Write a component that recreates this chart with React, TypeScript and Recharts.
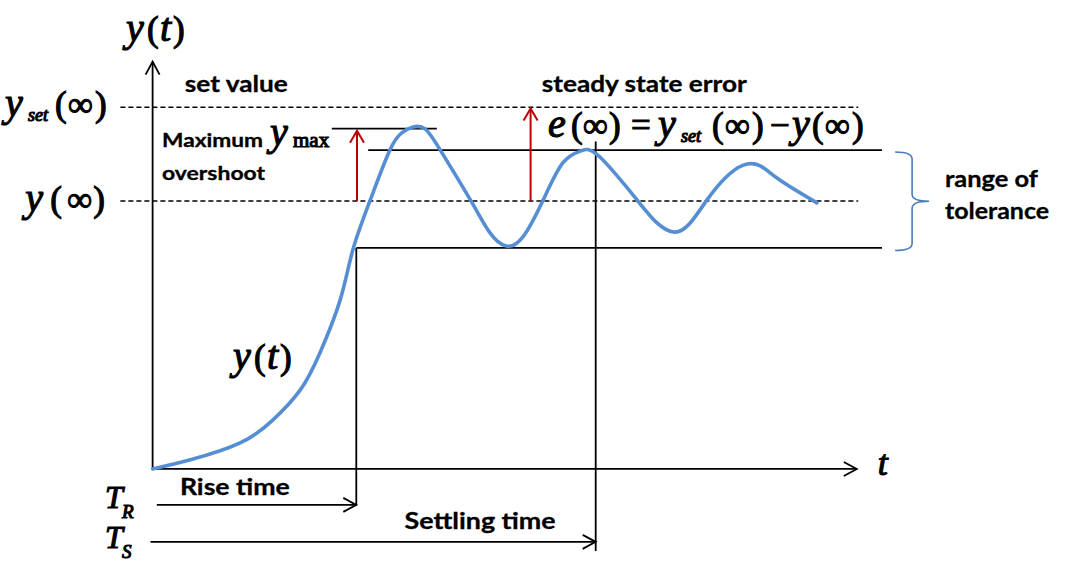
import React from 'react';
import { ComposedChart, Line, XAxis, YAxis, ReferenceLine, ReferenceDot } from 'recharts';

const WIDTH = 1071;
const HEIGHT = 570;

// t in seconds, y normalised so that y(∞) = 1
const T_DOMAIN: [number, number] = [-2.18, 13.12];
const Y_DOMAIN: [number, number] = [-0.377, 1.75];

const Y_INF = 1;
const Y_SET = 1.35;
const Y_MAX = 1.27;
const TOL_HIGH = 1.19;
const TOL_LOW = 0.825;
const T_RISE = 2.91;
const T_SETTLE = 6.33;

// step response y(t)
const response = [
  { t: 0, y: 0 },
  { t: 0.54, y: 0.034 },
  { t: 1.25, y: 0.097 },
  { t: 1.72, y: 0.183 },
  { t: 2.11, y: 0.295 },
  { t: 2.39, y: 0.433 },
  { t: 2.68, y: 0.631 },
  { t: 2.86, y: 0.817 },
  { t: 3.11, y: 1.004 },
  { t: 3.39, y: 1.19 },
  { t: 3.56, y: 1.254 },
  { t: 3.72, y: 1.276 },
  { t: 3.89, y: 1.27 },
  { t: 4.11, y: 1.19 },
  { t: 4.54, y: 1.004 },
  { t: 4.82, y: 0.881 },
  { t: 5.05, y: 0.832 },
  { t: 5.29, y: 0.866 },
  { t: 5.58, y: 1.004 },
  { t: 5.86, y: 1.142 },
  { t: 6.12, y: 1.187 },
  { t: 6.39, y: 1.164 },
  { t: 6.92, y: 1.004 },
  { t: 7.19, y: 0.922 },
  { t: 7.44, y: 0.884 },
  { t: 7.68, y: 0.918 },
  { t: 7.92, y: 1.004 },
  { t: 8.18, y: 1.086 },
  { t: 8.44, y: 1.134 },
  { t: 8.68, y: 1.131 },
  { t: 8.96, y: 1.078 },
  { t: 9.49, y: 0.993 },
];

// segments as [t1, y1, t2, y2]
const dashedLines = [
  [-0.46, Y_SET, 10.08, Y_SET],
  [-0.46, Y_INF, 10.08, Y_INF],
];
const solidLines = [
  [2.56, Y_MAX, 4.06, Y_MAX],
  [3.08, TOL_HIGH, 10.42, TOL_HIGH],
  [T_RISE, TOL_LOW, 10.42, TOL_LOW],
  [T_RISE, TOL_LOW, T_RISE, -0.134],
  [T_SETTLE, 1.222, T_SETTLE, -0.306],
];
const blackArrows = [
  [0, 0, 0, 1.52],
  [0, 0, 10.06, 0],
  [0.06, -0.134, T_RISE, -0.134],
  [-0.03, -0.272, T_SETTLE, -0.272],
];
const redArrows = [
  [2.92, Y_INF, 2.92, 1.262],
  [5.4, Y_INF, 5.4, 1.345],
];
const brace = [10.85, 1.183, 10.85, 0.815];

const captions = [
  { t: 0.46, y: 1.407, text: 'set value' },
  { t: 5.56, y: 1.407, text: 'steady state error' },
  { t: 11.32, y: 1.052, text: 'range of' },
  { t: 11.32, y: 0.933, text: 'tolerance' },
  { t: 0.39, y: -0.097, text: 'Rise time' },
  { t: 3.6, y: -0.224, text: 'Settling time' },
  { t: 0.135, y: 1.201, text: 'Maximum' },
  { t: 0.135, y: 1.078, text: 'overshoot' },
];

const mathLabels = [
  { id: 'yTitle', t: -0.379, y: 1.597 },
  { id: 'yCurve', t: 1.15, y: 0.373 },
  { id: 'ySet', t: -2.107, y: 1.317 },
  { id: 'yInf', t: -1.821, y: 0.963 },
  { id: 'yMax', t: 1.677, y: 1.209 },
  { id: 'error', t: 5.649, y: 1.239 },
  { id: 'tAxis', t: 10.36, y: -0.022 },
  { id: 'TR', t: -0.68, y: -0.146 },
  { id: 'TS', t: -0.68, y: -0.295 },
];

const SANS = "Lato, 'Open Sans', sans-serif";
const SERIF = "'Liberation Serif', 'DejaVu Serif', serif";
const CURVE_BLUE = '#568ED4';
const RED = '#C00000';

const CAPTION_STYLE: Record<string, { size: number; width: number }> = {
  'set value': { size: 22, width: 103 },
  'steady state error': { size: 22, width: 205 },
  'range of': { size: 22, width: 93 },
  'tolerance': { size: 22, width: 104 },
  'Rise time': { size: 22, width: 110 },
  'Settling time': { size: 22, width: 151 },
  'Maximum': { size: 18, width: 101 },
  'overshoot': { size: 18, width: 103 },
};

// glyph runs: text, dx, dy, size, italic
type Run = [string, number, number, number, boolean];
const V = 40; // variable size
const P = 35; // punctuation size
const SUB = 18;
const yOfT: Run[] = [['y', 0, 0, V, true], ['(', 21, 0, P, false], ['t', 34, 0, V, true], [')', 47, 0, P, false]];
const MATH_LAYOUT: Record<string, Run[]> = {
  yTitle: yOfT,
  yCurve: yOfT,
  ySet: [['y', 0, 0, V, true], ['set', 23, 5, SUB, true], ['(', 50, 0, P, false], ['∞', 63, 0, P, false], [')', 90, 0, P, false]],
  yInf: [['y', 0, 0, V, true], ['(', 25, 0, P, false], ['∞', 42, 0, P, false], [')', 68, 0, P, false]],
  yMax: [['y', 0, 0, V, true], ['max', 23, 2, 21, false]],
  error: [
    ['e', 0, 0, V, true], ['(', 23, 0, P, false], ['∞', 35, 0, P, false], [')', 61, 0, P, false],
    ['=', 83, 0, P, false], ['y', 110, 0, V, true], ['set', 133, 5, SUB, true],
    ['(', 164, 0, P, false], ['∞', 177, 0, P, false], [')', 204, 0, P, false],
    ['−', 222, 0, P, false], ['y', 244, 0, V, true], ['(', 264, 0, P, false],
    ['∞', 277, 0, P, false], [')', 304, 0, P, false],
  ],
  tAxis: [['t', 0, 0, 36, true]],
  TR: [['T', 0, 0, 32, true], ['R', 17, 10, 19, true]],
  TS: [['T', 0, 0, 32, true], ['S', 17, 10, 19, true]],
};

const arrowShape = (color: string, width: number, len: number, half: number) => (p: any) => {
  const { x1, y1, x2, y2 } = p;
  const dx = x2 - x1;
  const dy = y2 - y1;
  const d = Math.hypot(dx, dy) || 1;
  const ux = dx / d;
  const uy = dy / d;
  const bx = x2 - ux * len;
  const by = y2 - uy * len;
  const nx = -uy * half;
  const ny = ux * half;
  return (
    <g>
      <line x1={x1} y1={y1} x2={x2} y2={y2} stroke={color} strokeWidth={width} />
      <polyline
        points={`${bx + nx},${by + ny} ${x2},${y2} ${bx - nx},${by - ny}`}
        fill="none"
        stroke={color}
        strokeWidth={width}
      />
    </g>
  );
};

const braceShape = (p: any) => {
  const { x1, y1, y2 } = p;
  const mid = (y1 + y2) / 2;
  const hook = 17;
  const tip = 17;
  const r = 7;
  const d = `M ${x1 - hook} ${y1} Q ${x1} ${y1} ${x1} ${y1 + r} L ${x1} ${mid - r} Q ${x1} ${mid} ${x1 + tip} ${mid}`
    + ` Q ${x1} ${mid} ${x1} ${mid + r} L ${x1} ${y2 - r} Q ${x1} ${y2} ${x1 - hook} ${y2}`;
  return <path d={d} fill="none" stroke="#4A7EBB" strokeWidth={1.6} />;
};

const Caption = ({ x, y, text }: { x: number; y: number; text: string }) => {
  const s = CAPTION_STYLE[text];
  return (
    <text x={x} y={y} style={{ fontFamily: SANS, fontWeight: 700, fontSize: s.size }} fill="#000"
      stroke="#000" strokeWidth={0.3} textLength={s.width} lengthAdjust="spacingAndGlyphs">
      {text}
    </text>
  );
};

const MathText = ({ x, y, id }: { x: number; y: number; id: string }) => (
  <text x={x} y={y} style={{ fontFamily: SERIF }} fill="#000" stroke="#000" strokeWidth={1.1}>
    {MATH_LAYOUT[id].map(([s, dx, dy, size, italic], i) => (
      <tspan key={i} x={x + dx} y={y + dy} style={{ fontSize: size, fontStyle: italic ? 'italic' : 'normal' }}>
        {s}
      </tspan>
    ))}
  </text>
);

const seg = (s: number[]) => [{ x: s[0], y: s[1] }, { x: s[2], y: s[3] }];

export default function App() {
  return (
    <div style={{ position: 'absolute', left: 0, top: 0, width: WIDTH, height: HEIGHT, background: '#fff' }}>
      <ComposedChart width={WIDTH} height={HEIGHT} data={response} margin={{ top: 0, right: 0, bottom: 0, left: 0 }}>
        <XAxis type="number" dataKey="t" domain={T_DOMAIN} allowDataOverflow hide />
        <YAxis type="number" domain={Y_DOMAIN} allowDataOverflow hide />

        {dashedLines.map((s, i) => (
          <ReferenceLine key={`d${i}`} segment={seg(s)} stroke="#000" strokeWidth={1.5} strokeDasharray="5 3" />
        ))}
        {solidLines.map((s, i) => (
          <ReferenceLine key={`s${i}`} segment={seg(s)} stroke="#000" strokeWidth={1.8} />
        ))}
        {blackArrows.map((s, i) => (
          <ReferenceLine key={`a${i}`} segment={seg(s)} shape={arrowShape('#000', 1.8, 13, 7)} />
        ))}
        {redArrows.map((s, i) => (
          <ReferenceLine key={`r${i}`} segment={seg(s)} shape={arrowShape(RED, 2, 12, 7)} />
        ))}
        <ReferenceLine segment={seg(brace)} shape={braceShape} />

        <Line
          type="natural"
          dataKey="y"
          stroke={CURVE_BLUE}
          strokeWidth={3.6}
          strokeLinecap="round"
          dot={false}
          activeDot={false}
          isAnimationActive={false}
        />

        {captions.map((c) => (
          <ReferenceDot key={c.text} x={c.t} y={c.y} r={0}
            shape={(p: any) => <Caption x={p.cx} y={p.cy} text={c.text} />} />
        ))}
        {mathLabels.map((m) => (
          <ReferenceDot key={m.id} x={m.t} y={m.y} r={0}
            shape={(p: any) => <MathText x={p.cx} y={p.cy} id={m.id} />} />
        ))}
      </ComposedChart>
    </div>
  );
}
